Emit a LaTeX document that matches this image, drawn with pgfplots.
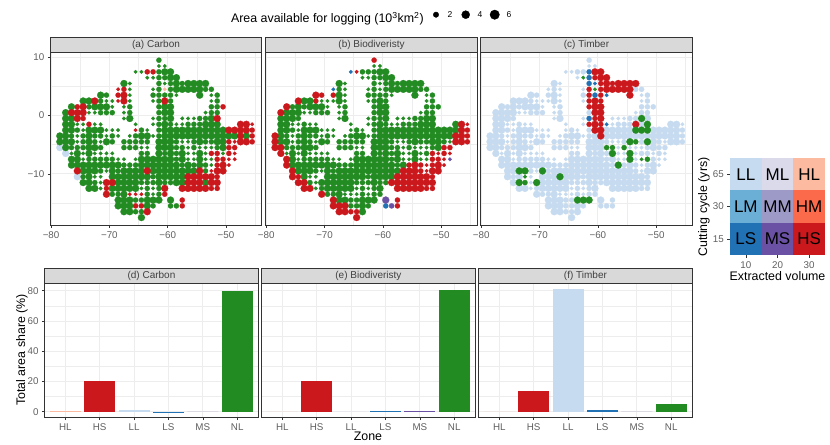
\documentclass[border=0pt]{standalone}
\usepackage{fontspec}
\setmainfont{Liberation Sans}
\usepackage{pgfplots}
\usepackage{pgfplotstable}
\pgfplotsset{compat=1.18}
\definecolor{cNL}{HTML}{228B22}
\definecolor{cLL}{HTML}{C6DBEF}
\definecolor{cHS}{HTML}{CB181D}
\definecolor{cLS}{HTML}{2171B5}
\definecolor{cMS}{HTML}{6A51A3}
\definecolor{cHL}{HTML}{FCBBA1}
\colorlet{z0}{cNL}\colorlet{z1}{cLL}\colorlet{z2}{cHS}\colorlet{z3}{cLS}\colorlet{z4}{cMS}\colorlet{z5}{cHL}
\definecolor{cML}{HTML}{DADAEB}
\definecolor{cHM}{HTML}{FB6A4A}
\definecolor{cLM}{HTML}{6BAED6}
\definecolor{cMM}{HTML}{9E9AC8}
\definecolor{bord}{HTML}{333333}
\definecolor{stripc}{HTML}{D9D9D9}
\definecolor{gridc}{HTML}{EDEDED}
\definecolor{tickc}{HTML}{5F5F5F}
\pgfplotstableread[row sep=\\]{
x y s a b c\\
-61.5 9.5 2 0 2 1\\
-61.5 8.5 1 0 0 1\\ -60.5 8.5 1 0 0 1\\
-65.5 7.5 1 0 3 1\\ -64.5 7.5 1 0 2 1\\ -63.5 7.5 2 2 0 1\\ -62.5 7.5 2 2 0 1\\ -61.5 7.5 2 0 0 3\\ -60.5 7.5 3 0 0 2\\ -59.5 7.5 3 0 0 2\\
-63.5 6.5 1 0 0 1\\ -62.5 6.5 1 0 0 0\\ -61.5 6.5 2 0 0 3\\ -60.5 6.5 2 0 0 2\\ -59.5 6.5 3 0 0 2\\ -58.5 6.5 3 0 0 2\\
-67.5 5.5 3 0 0 1\\ -66.5 5.5 1 0 0 1\\ -61.5 5.5 2 0 0 3\\ -60.5 5.5 1 0 0 3\\ -59.5 5.5 2 0 0 2\\ -58.5 5.5 3 0 0 2\\ -57.5 5.5 2 0 0 2\\ -56.5 5.5 3 0 0 2\\ -55.5 5.5 3 0 0 2\\ -54.5 5.5 3 0 0 2\\ -53.5 5.5 3 0 0 2\\
-68.5 4.5 1 2 3 1\\ -67.5 4.5 2 2 0 1\\ -66.5 4.5 1 0 0 1\\ -62.5 4.5 1 0 0 1\\ -61.5 4.5 2 0 0 2\\ -60.5 4.5 1 5 0 0\\ -59.5 4.5 2 0 0 2\\ -58.5 4.5 3 0 0 2\\ -57.5 4.5 3 0 0 2\\ -56.5 4.5 3 0 0 2\\ -55.5 4.5 3 0 0 2\\ -54.5 4.5 3 0 0 2\\ -53.5 4.5 2 0 0 1\\ -52.5 4.5 2 0 0 1\\
-71.5 3.5 3 0 2 1\\ -70.5 3.5 2 0 2 1\\ -68.5 3.5 2 2 2 1\\ -67.5 3.5 3 2 0 1\\ -66.5 3.5 1 0 0 1\\ -62.5 3.5 2 0 0 1\\ -61.5 3.5 2 0 0 2\\ -60.5 3.5 2 0 0 3\\ -59.5 3.5 2 0 0 2\\ -58.5 3.5 1 0 0 3\\ -54.5 3.5 3 0 0 2\\ -52.5 3.5 1 0 0 1\\ -51.5 3.5 2 0 0 1\\
-74.5 2.5 3 0 2 1\\ -73.5 2.5 3 0 0 1\\ -72.5 2.5 3 2 0 1\\ -71.5 2.5 2 0 2 1\\ -70.5 2.5 1 0 0 1\\ -69.5 2.5 1 0 0 1\\ -68.5 2.5 1 2 0 1\\ -67.5 2.5 3 2 0 1\\ -66.5 2.5 1 0 0 1\\ -62.5 2.5 1 0 0 1\\ -61.5 2.5 2 0 0 2\\ -60.5 2.5 3 2 0 2\\ -59.5 2.5 2 0 0 2\\ -52.5 2.5 1 0 0 1\\ -51.5 2.5 2 0 0 1\\
-76.5 1.5 3 0 2 1\\ -75.5 1.5 2 2 0 1\\ -74.5 1.5 3 2 0 1\\ -73.5 1.5 2 0 0 1\\ -72.5 1.5 3 0 0 1\\ -71.5 1.5 3 0 0 1\\ -70.5 1.5 3 0 0 1\\ -69.5 1.5 1 0 0 1\\ -67.5 1.5 1 0 0 1\\ -66.5 1.5 2 0 0 1\\ -61.5 1.5 2 0 0 2\\ -60.5 1.5 3 0 0 2\\ -59.5 1.5 3 0 0 2\\ -52.5 1.5 2 0 0 1\\ -51.5 1.5 2 0 0 1\\ -50.5 1.5 2 2 0 1\\
-77.5 0.5 3 0 2 1\\ -76.5 0.5 3 2 0 1\\ -75.5 0.5 3 2 0 1\\ -74.5 0.5 3 2 0 1\\ -73.5 0.5 1 0 0 1\\ -72.5 0.5 1 0 0 1\\ -71.5 0.5 2 0 0 1\\ -70.5 0.5 2 0 0 1\\ -69.5 0.5 2 0 0 1\\ -67.5 0.5 1 0 0 1\\ -66.5 0.5 2 0 0 1\\ -61.5 0.5 2 0 0 1\\ -60.5 0.5 3 0 0 2\\ -59.5 0.5 3 0 0 2\\ -53.5 0.5 1 0 0 1\\ -52.5 0.5 2 0 0 1\\ -51.5 0.5 2 0 0 1\\
-77.5 -0.5 3 0 0 1\\ -76.5 -0.5 3 0 0 1\\ -75.5 -0.5 3 2 0 1\\ -74.5 -0.5 2 2 0 1\\ -67.5 -0.5 1 0 0 1\\ -66.5 -0.5 3 0 0 1\\ -62.5 -0.5 1 0 0 1\\ -61.5 -0.5 2 0 0 3\\ -60.5 -0.5 2 0 0 2\\ -59.5 -0.5 3 0 0 2\\ -57.5 -0.5 1 0 0 1\\ -56.5 -0.5 1 0 0 1\\ -55.5 -0.5 1 0 0 1\\ -54.5 -0.5 2 0 0 1\\ -53.5 -0.5 2 0 0 1\\ -52.5 -0.5 3 0 0 0\\ -51.5 -0.5 3 2 0 1\\
-77.5 -1.5 3 0 0 1\\ -76.5 -1.5 3 0 0 1\\ -75.5 -1.5 1 0 0 1\\ -74.5 -1.5 1 0 0 1\\ -73.5 -1.5 2 2 0 1\\ -72.5 -1.5 1 0 0 1\\ -71.5 -1.5 1 0 0 1\\ -65.5 -1.5 1 0 0 1\\ -62.5 -1.5 1 0 0 1\\ -61.5 -1.5 2 0 0 2\\ -60.5 -1.5 3 0 0 2\\ -59.5 -1.5 2 0 0 2\\ -58.5 -1.5 1 0 0 3\\ -57.5 -1.5 1 0 0 1\\ -56.5 -1.5 2 0 0 1\\ -55.5 -1.5 2 0 0 1\\ -54.5 -1.5 2 0 0 1\\ -53.5 -1.5 3 0 0 2\\ -52.5 -1.5 3 0 0 1\\ -51.5 -1.5 3 0 0 0\\ -47.5 -1.5 3 2 0 1\\ -46.5 -1.5 3 2 2 1\\ -45.5 -1.5 1 2 2 1\\
-77.5 -2.5 3 0 0 1\\ -76.5 -2.5 3 0 0 1\\ -75.5 -2.5 2 0 0 1\\ -74.5 -2.5 1 0 0 1\\ -73.5 -2.5 3 0 0 1\\ -72.5 -2.5 3 0 0 1\\ -71.5 -2.5 3 0 0 1\\ -70.5 -2.5 1 0 0 1\\ -69.5 -2.5 1 0 0 1\\ -68.5 -2.5 1 0 0 1\\ -65.5 -2.5 1 2 0 1\\ -64.5 -2.5 2 0 0 1\\ -63.5 -2.5 1 0 0 1\\ -61.5 -2.5 2 0 0 1\\ -60.5 -2.5 3 0 0 2\\ -59.5 -2.5 3 0 0 2\\ -58.5 -2.5 3 0 0 1\\ -57.5 -2.5 3 0 0 1\\ -56.5 -2.5 3 0 0 1\\ -55.5 -2.5 3 0 0 1\\ -54.5 -2.5 3 0 0 1\\ -53.5 -2.5 3 0 0 0\\ -52.5 -2.5 3 0 0 0\\ -51.5 -2.5 3 0 0 0\\ -50.5 -2.5 3 0 0 1\\ -49.5 -2.5 3 2 0 1\\ -48.5 -2.5 3 2 0 1\\ -47.5 -2.5 3 2 0 1\\ -46.5 -2.5 3 2 2 1\\ -45.5 -2.5 2 2 2 1\\
-78.5 -3.5 3 0 2 1\\ -77.5 -3.5 3 0 0 1\\ -76.5 -3.5 2 0 0 1\\ -75.5 -3.5 1 0 0 1\\ -74.5 -3.5 2 0 0 1\\ -73.5 -3.5 3 0 0 1\\ -72.5 -3.5 2 0 0 1\\ -71.5 -3.5 2 0 0 1\\ -70.5 -3.5 1 0 0 1\\ -69.5 -3.5 2 0 0 1\\ -68.5 -3.5 1 0 0 1\\ -66.5 -3.5 1 0 0 1\\ -65.5 -3.5 2 0 0 1\\ -64.5 -3.5 3 0 0 1\\ -63.5 -3.5 3 0 0 1\\ -62.5 -3.5 1 0 0 1\\ -61.5 -3.5 2 0 0 1\\ -60.5 -3.5 3 0 0 1\\ -59.5 -3.5 3 0 0 2\\ -58.5 -3.5 3 0 0 1\\ -57.5 -3.5 3 0 0 1\\ -56.5 -3.5 3 0 0 1\\ -55.5 -3.5 3 0 0 1\\ -54.5 -3.5 3 0 0 1\\ -53.5 -3.5 3 0 0 1\\ -52.5 -3.5 3 0 0 1\\ -51.5 -3.5 3 0 0 1\\ -50.5 -3.5 3 0 0 1\\ -49.5 -3.5 3 0 0 1\\ -48.5 -3.5 3 0 0 1\\ -47.5 -3.5 3 2 2 1\\ -46.5 -3.5 3 0 2 1\\ -45.5 -3.5 2 2 2 1\\
-78.5 -4.5 3 0 2 1\\ -77.5 -4.5 3 0 0 1\\ -76.5 -4.5 3 0 0 1\\ -75.5 -4.5 1 0 0 1\\ -74.5 -4.5 2 0 0 1\\ -73.5 -4.5 3 0 0 1\\ -72.5 -4.5 2 0 0 1\\ -71.5 -4.5 1 0 0 1\\ -70.5 -4.5 3 0 0 1\\ -69.5 -4.5 2 0 0 1\\ -67.5 -4.5 2 0 0 1\\ -66.5 -4.5 2 0 0 1\\ -65.5 -4.5 2 0 0 1\\ -64.5 -4.5 2 0 0 1\\ -63.5 -4.5 2 0 0 1\\ -61.5 -4.5 3 0 0 1\\ -60.5 -4.5 3 0 0 1\\ -59.5 -4.5 3 0 0 1\\ -58.5 -4.5 2 0 0 1\\ -57.5 -4.5 1 0 0 1\\ -56.5 -4.5 1 0 0 1\\ -55.5 -4.5 2 0 0 1\\ -54.5 -4.5 3 0 0 0\\ -53.5 -4.5 2 0 0 0\\ -52.5 -4.5 2 0 0 1\\ -51.5 -4.5 3 0 0 0\\ -50.5 -4.5 3 0 0 1\\ -49.5 -4.5 2 2 0 1\\ -48.5 -4.5 1 2 0 1\\ -47.5 -4.5 3 2 2 1\\ -46.5 -4.5 3 2 2 1\\ -45.5 -4.5 2 2 2 1\\
-78.5 -5.5 3 1 2 1\\ -77.5 -5.5 3 0 2 1\\ -76.5 -5.5 2 0 0 1\\ -75.5 -5.5 2 0 0 1\\ -74.5 -5.5 2 0 0 1\\ -73.5 -5.5 3 0 0 1\\ -72.5 -5.5 3 0 0 1\\ -71.5 -5.5 2 0 0 1\\ -67.5 -5.5 2 0 0 1\\ -66.5 -5.5 2 0 0 1\\ -65.5 -5.5 2 0 0 1\\ -64.5 -5.5 1 0 0 1\\ -63.5 -5.5 1 0 0 1\\ -61.5 -5.5 3 0 0 1\\ -60.5 -5.5 3 0 0 1\\ -59.5 -5.5 3 0 0 1\\ -58.5 -5.5 2 0 0 0\\ -57.5 -5.5 2 0 0 0\\ -56.5 -5.5 1 0 0 1\\ -55.5 -5.5 2 0 0 0\\ -54.5 -5.5 1 0 0 1\\ -53.5 -5.5 1 0 0 1\\ -52.5 -5.5 1 0 0 1\\ -51.5 -5.5 2 0 0 1\\ -50.5 -5.5 3 0 0 1\\ -49.5 -5.5 2 2 2 1\\ -48.5 -5.5 2 2 2 1\\
-77.5 -6.5 3 1 2 1\\ -76.5 -6.5 1 0 0 1\\ -75.5 -6.5 3 0 0 1\\ -74.5 -6.5 1 0 0 1\\ -73.5 -6.5 3 0 0 1\\ -72.5 -6.5 1 0 0 1\\ -71.5 -6.5 1 0 0 1\\ -70.5 -6.5 1 0 0 1\\ -69.5 -6.5 1 0 0 1\\ -64.5 -6.5 2 0 0 1\\ -63.5 -6.5 2 0 0 1\\ -61.5 -6.5 3 0 0 1\\ -60.5 -6.5 2 0 0 1\\ -59.5 -6.5 3 0 0 1\\ -58.5 -6.5 2 0 0 1\\ -57.5 -6.5 3 0 0 0\\ -56.5 -6.5 1 0 0 1\\ -55.5 -6.5 1 0 0 1\\ -54.5 -6.5 3 0 0 0\\ -53.5 -6.5 1 0 0 1\\ -52.5 -6.5 2 2 0 1\\ -51.5 -6.5 2 2 2 1\\ -50.5 -6.5 1 0 2 1\\ -49.5 -6.5 2 2 2 1\\ -48.5 -6.5 1 2 2 1\\
-76.5 -7.5 3 0 2 1\\ -75.5 -7.5 3 0 0 1\\ -74.5 -7.5 1 0 0 1\\ -73.5 -7.5 2 0 0 1\\ -72.5 -7.5 2 0 0 1\\ -71.5 -7.5 2 0 0 1\\ -70.5 -7.5 2 0 0 1\\ -69.5 -7.5 2 0 0 1\\ -68.5 -7.5 1 0 0 1\\ -67.5 -7.5 1 0 0 1\\ -65.5 -7.5 1 0 0 1\\ -64.5 -7.5 3 0 0 1\\ -63.5 -7.5 3 0 0 1\\ -62.5 -7.5 3 0 0 1\\ -61.5 -7.5 3 0 0 1\\ -60.5 -7.5 3 0 0 1\\ -59.5 -7.5 3 0 0 1\\ -58.5 -7.5 2 0 0 1\\ -57.5 -7.5 3 0 0 1\\ -56.5 -7.5 1 0 0 1\\ -55.5 -7.5 1 0 0 1\\ -54.5 -7.5 3 0 0 0\\ -53.5 -7.5 1 0 0 1\\ -52.5 -7.5 1 0 0 0\\ -51.5 -7.5 2 2 2 0\\ -50.5 -7.5 2 2 2 1\\ -49.5 -7.5 1 2 2 1\\ -48.5 -7.5 1 2 4 1\\
-76.5 -8.5 3 0 2 1\\ -75.5 -8.5 3 0 0 1\\ -74.5 -8.5 3 0 0 1\\ -73.5 -8.5 3 0 0 1\\ -72.5 -8.5 3 0 0 1\\ -71.5 -8.5 3 0 0 1\\ -70.5 -8.5 3 0 0 1\\ -69.5 -8.5 3 0 0 1\\ -68.5 -8.5 3 0 0 1\\ -67.5 -8.5 2 0 0 1\\ -66.5 -8.5 2 0 0 1\\ -65.5 -8.5 2 0 0 1\\ -64.5 -8.5 3 0 0 1\\ -63.5 -8.5 3 0 0 1\\ -62.5 -8.5 3 0 0 1\\ -61.5 -8.5 3 0 0 1\\ -60.5 -8.5 3 0 0 1\\ -59.5 -8.5 3 0 0 1\\ -58.5 -8.5 3 0 0 1\\ -57.5 -8.5 2 0 0 1\\ -56.5 -8.5 3 0 0 0\\ -55.5 -8.5 2 0 2 1\\ -54.5 -8.5 3 0 2 1\\ -53.5 -8.5 2 0 2 1\\ -52.5 -8.5 1 0 2 1\\ -51.5 -8.5 2 2 2 1\\ -50.5 -8.5 3 2 2 1\\ -49.5 -8.5 1 2 2 1\\
-75.5 -9.5 3 2 2 1\\ -74.5 -9.5 3 0 0 1\\ -73.5 -9.5 3 0 0 0\\ -72.5 -9.5 3 0 0 0\\ -71.5 -9.5 2 0 0 1\\ -70.5 -9.5 1 0 0 1\\ -69.5 -9.5 3 0 0 0\\ -68.5 -9.5 2 0 0 1\\ -67.5 -9.5 3 0 0 1\\ -66.5 -9.5 3 0 0 1\\ -65.5 -9.5 3 0 0 1\\ -64.5 -9.5 3 0 0 1\\ -63.5 -9.5 3 2 0 1\\ -62.5 -9.5 3 0 0 1\\ -61.5 -9.5 3 0 0 1\\ -60.5 -9.5 3 0 0 1\\ -59.5 -9.5 3 0 0 1\\ -58.5 -9.5 3 0 0 1\\ -57.5 -9.5 3 0 0 1\\ -56.5 -9.5 3 0 2 1\\ -55.5 -9.5 3 0 2 1\\ -54.5 -9.5 3 2 2 1\\ -53.5 -9.5 2 0 2 1\\ -52.5 -9.5 1 2 2 1\\ -51.5 -9.5 3 2 2 1\\ -50.5 -9.5 3 2 2 1\\
-75.5 -10.5 3 1 2 1\\ -74.5 -10.5 2 0 2 1\\ -73.5 -10.5 3 0 0 1\\ -72.5 -10.5 1 0 0 0\\ -71.5 -10.5 1 0 0 1\\ -69.5 -10.5 3 0 0 1\\ -68.5 -10.5 3 0 0 1\\ -67.5 -10.5 3 0 0 1\\ -66.5 -10.5 3 0 0 0\\ -65.5 -10.5 3 0 0 1\\ -64.5 -10.5 3 0 0 1\\ -63.5 -10.5 3 0 0 1\\ -62.5 -10.5 2 0 0 1\\ -61.5 -10.5 3 0 0 1\\ -60.5 -10.5 3 0 0 1\\ -59.5 -10.5 3 0 0 1\\ -58.5 -10.5 3 0 0 1\\ -57.5 -10.5 3 0 2 1\\ -56.5 -10.5 3 2 2 1\\ -55.5 -10.5 3 2 2 1\\ -54.5 -10.5 3 2 2 1\\ -53.5 -10.5 3 2 2 1\\ -52.5 -10.5 3 2 2 1\\ -51.5 -10.5 2 2 2 1\\
-74.5 -11.5 3 0 2 1\\ -73.5 -11.5 3 0 2 0\\ -72.5 -11.5 2 0 0 0\\ -71.5 -11.5 1 0 0 1\\ -70.5 -11.5 3 2 0 0\\ -69.5 -11.5 3 2 0 1\\ -68.5 -11.5 3 0 0 1\\ -67.5 -11.5 3 0 0 1\\ -66.5 -11.5 3 0 0 1\\ -65.5 -11.5 3 0 0 1\\ -64.5 -11.5 2 0 0 1\\ -63.5 -11.5 2 0 0 1\\ -62.5 -11.5 2 0 0 1\\ -61.5 -11.5 3 0 0 1\\ -60.5 -11.5 2 0 0 1\\ -59.5 -11.5 2 0 0 1\\ -58.5 -11.5 3 0 2 1\\ -57.5 -11.5 3 0 2 1\\ -56.5 -11.5 3 2 2 1\\ -55.5 -11.5 3 2 2 1\\ -54.5 -11.5 3 2 2 1\\ -53.5 -11.5 3 0 2 1\\ -52.5 -11.5 3 2 2 1\\ -51.5 -11.5 3 2 2 1\\
-73.5 -12.5 3 0 2 1\\ -72.5 -12.5 3 0 2 1\\ -71.5 -12.5 1 0 0 1\\ -70.5 -12.5 2 2 0 1\\ -69.5 -12.5 3 0 0 1\\ -68.5 -12.5 3 0 0 1\\ -67.5 -12.5 3 0 0 1\\ -66.5 -12.5 3 0 0 1\\ -65.5 -12.5 3 0 0 1\\ -64.5 -12.5 1 0 0 1\\ -63.5 -12.5 2 0 0 1\\ -62.5 -12.5 1 0 0 1\\ -61.5 -12.5 2 0 0 1\\ -60.5 -12.5 3 2 0 1\\ -57.5 -12.5 3 2 2 1\\ -56.5 -12.5 3 2 2 1\\ -55.5 -12.5 3 2 2 1\\ -54.5 -12.5 3 2 2 1\\ -53.5 -12.5 3 2 2 1\\ -52.5 -12.5 2 2 2 1\\ -51.5 -12.5 2 2 2 1\\
-70.5 -13.5 3 2 2 1\\ -69.5 -13.5 2 0 0 1\\ -68.5 -13.5 2 0 0 1\\ -67.5 -13.5 3 0 0 1\\ -66.5 -13.5 1 2 0 1\\ -65.5 -13.5 1 2 0 1\\ -64.5 -13.5 1 2 0 1\\ -63.5 -13.5 2 0 0 1\\ -62.5 -13.5 1 0 0 1\\ -61.5 -13.5 2 0 0 1\\ -60.5 -13.5 2 2 0 1\\
-68.5 -14.5 3 0 2 1\\ -67.5 -14.5 3 0 0 1\\ -66.5 -14.5 3 0 0 1\\ -65.5 -14.5 2 0 0 1\\ -64.5 -14.5 2 0 0 1\\ -63.5 -14.5 3 0 0 0\\ -62.5 -14.5 3 0 0 0\\ -61.5 -14.5 3 0 0 0\\ -59.5 -14.5 3 0 4 1\\ -57.5 -14.5 2 2 2 1\\
-68.5 -15.5 3 0 2 1\\ -67.5 -15.5 3 0 2 1\\ -66.5 -15.5 3 0 2 1\\ -65.5 -15.5 2 2 0 1\\ -64.5 -15.5 2 2 0 1\\ -63.5 -15.5 3 0 0 1\\ -62.5 -15.5 2 0 0 1\\ -59.5 -15.5 2 0 3 1\\ -58.5 -15.5 2 0 4 1\\ -57.5 -15.5 2 2 2 1\\
-67.5 -16.5 3 0 2 1\\ -66.5 -16.5 3 0 2 1\\ -65.5 -16.5 2 0 2 1\\ -64.5 -16.5 2 0 2 1\\ -63.5 -16.5 3 2 0 1\\
-64.5 -17.5 3 0 2 1\\
}\grid
\pgfplotsset{
  base/.style={scale only axis,anchor=south west,
    axis line style={draw=bord,line width=0.9pt},
    tick style={draw=bord,line width=0.6pt},
    major tick length=2.7pt, minor tick length=0pt,
    tick align=outside, tick pos=lower,
    tick label style={font=\fontsize{9.8}{10}\selectfont,text=tickc},
    grid=both,
    major grid style={draw=gridc,line width=0.9pt},
    minor grid style={draw=gridc,line width=0.6pt},
  },
  map/.style={base,width=#1,height=172.5pt,
    xmin=-80.1,ymin=-18.78,ymax=10.82,
    xtick={-80,-70,-60,-50},xticklabels={−80,−70,−60,−50},
    ytick={-10,0,10},yticklabels={−10,0,10},
    minor xtick={-75,-65,-55,-45},minor ytick={-15,-5,5},
  },
  noy/.style={yticklabels={},ytick style={draw=none}},
  bars/.style={base,width=213.5pt,height=134.3pt,
    xmin=-0.6,xmax=5.61,ymin=-3.7,ymax=85.1,
    xtick={0,1,2,3,4,5},xticklabels={HL,HS,LL,LS,MS,NL},
    ytick={0,20,40,60,80},yticklabels={0,20,40,60,80},minor ytick={10,30,50,70},
    ybar,bar width=0.9,bar shift=0pt,
  },
}
% one zone of one panel, in the three dot sizes
\newcommand\zonepts[2]{%
  \addplot[only marks,mark=*,mark size=1.85pt,color=z#2,mark options={line width=0.2pt}]
    table[x=x,y expr={(\thisrow{#1}==#2 && \thisrow{s}==1) ? \thisrow{y} : nan}] {\grid};
  \addplot[only marks,mark=*,mark size=2.6pt,color=z#2,mark options={line width=0.2pt}]
    table[x=x,y expr={(\thisrow{#1}==#2 && \thisrow{s}==2) ? \thisrow{y} : nan}] {\grid};
  \addplot[only marks,mark=*,mark size=3.5pt,color=z#2,mark options={line width=0.2pt}]
    table[x=x,y expr={(\thisrow{#1}==#2 && \thisrow{s}==3) ? \thisrow{y} : nan}] {\grid};
}
\newcommand\strip[5]{%
  \draw[fill=stripc,draw=bord,line width=0.9pt] (#1pt,{(443-#3)*1pt}) rectangle (#2pt,{(443-#4)*1pt});
  \node[font=\fontsize{10}{11}\selectfont,text=black!75] at ({(#1+#2)/2*1pt},{(443-(#3+#4)/2)*1pt}) {#5};}
\begin{document}
\begin{tikzpicture}
\path (0,0) rectangle (830pt,443pt);
% maps
\begin{axis}[map=211pt,xmax=-43.9,at={(50.5pt,218pt)}]
\zonepts{a}{1}\zonepts{a}{0}\zonepts{a}{2}\zonepts{a}{5}
\end{axis}
\begin{axis}[map=211.6pt,xmax=-43.8,noy,at={(265.7pt,218pt)}]
\zonepts{b}{0}\zonepts{b}{2}\zonepts{b}{3}\zonepts{b}{4}
\end{axis}
\begin{axis}[map=211.6pt,xmax=-43.8,noy,at={(480.7pt,218pt)}]
\zonepts{c}{1}\zonepts{c}{2}\zonepts{c}{0}\zonepts{c}{3}
\end{axis}
% bars
\begin{axis}[bars,at={(44.7pt,25.7pt)}]
\addplot[fill=cHL,draw=none] coordinates {(0,0.3)};
\addplot[fill=cHS,draw=none] coordinates {(1,20)};
\addplot[fill=cLL,draw=none] coordinates {(2,0.8)};
\addplot[fill=cLS,draw=none] coordinates {(3,0.1)};
\addplot[fill=cMS,draw=none] coordinates {(4,0)};
\addplot[fill=cNL,draw=none] coordinates {(5,79.5)};
\end{axis}
\begin{axis}[bars,noy,at={(261.7pt,25.7pt)}]
\addplot[fill=cHL,draw=none] coordinates {(0,0)};
\addplot[fill=cHS,draw=none] coordinates {(1,20.2)};
\addplot[fill=cLL,draw=none] coordinates {(2,0)};
\addplot[fill=cLS,draw=none] coordinates {(3,0.5)};
\addplot[fill=cMS,draw=none] coordinates {(4,0.5)};
\addplot[fill=cNL,draw=none] coordinates {(5,80.2)};
\end{axis}
\begin{axis}[bars,noy,at={(478.7pt,25.7pt)}]
\addplot[fill=cHL,draw=none] coordinates {(0,0)};
\addplot[fill=cHS,draw=none] coordinates {(1,13.7)};
\addplot[fill=cLL,draw=none] coordinates {(2,81)};
\addplot[fill=cLS,draw=none] coordinates {(3,1.1)};
\addplot[fill=cMS,draw=none] coordinates {(4,0)};
\addplot[fill=cNL,draw=none] coordinates {(5,5)};
\end{axis}
% strips
\strip{50.5}{261.5}{37.5}{52.7}{(a) Carbon}
\strip{265.7}{477.3}{37.5}{52.7}{(b) Biodiveristy}
\strip{480.7}{692.3}{37.5}{52.7}{(c) Timber}
\strip{44.7}{258.2}{268.5}{283}{(d) Carbon}
\strip{261.7}{475.2}{268.5}{283}{(e) Biodiveristy}
\strip{478.7}{692.2}{268.5}{283}{(f) Timber}
% bivariate key
\begin{axis}[scale only axis,anchor=south west,at={(730pt,188pt)},width=95pt,height=97pt,
  xmin=5,xmax=35,ymin=0.5,ymax=3.5,
  xtick={10,20,30},xticklabels={10,20,30},ytick={1,2,3},yticklabels={15,30,65},
  axis line style={draw=none},tick style={draw=bord,line width=0.6pt},
  major tick length=2.7pt,tick align=outside,tick pos=lower,
  tick label style={font=\fontsize{9.8}{10}\selectfont,text=tickc}]
\addplot[fill=cLL,draw=none] coordinates {(5,2.5)(15,2.5)(15,3.5)(5,3.5)} -- cycle;
\addplot[fill=cML,draw=none] coordinates {(15,2.5)(25,2.5)(25,3.5)(15,3.5)} -- cycle;
\addplot[fill=cHL,draw=none] coordinates {(25,2.5)(35,2.5)(35,3.5)(25,3.5)} -- cycle;
\addplot[fill=cLM,draw=none] coordinates {(5,1.5)(15,1.5)(15,2.5)(5,2.5)} -- cycle;
\addplot[fill=cMM,draw=none] coordinates {(15,1.5)(25,1.5)(25,2.5)(15,2.5)} -- cycle;
\addplot[fill=cHM,draw=none] coordinates {(25,1.5)(35,1.5)(35,2.5)(25,2.5)} -- cycle;
\addplot[fill=cLS,draw=none] coordinates {(5,0.5)(15,0.5)(15,1.5)(5,1.5)} -- cycle;
\addplot[fill=cMS,draw=none] coordinates {(15,0.5)(25,0.5)(25,1.5)(15,1.5)} -- cycle;
\addplot[fill=cHS,draw=none] coordinates {(25,0.5)(35,0.5)(35,1.5)(25,1.5)} -- cycle;
\node[font=\fontsize{17}{18}\selectfont] at (axis cs:10,3) {LL};
\node[font=\fontsize{17}{18}\selectfont] at (axis cs:20,3) {ML};
\node[font=\fontsize{17}{18}\selectfont] at (axis cs:30,3) {HL};
\node[font=\fontsize{17}{18}\selectfont] at (axis cs:10,2) {LM};
\node[font=\fontsize{17}{18}\selectfont] at (axis cs:20,2) {MM};
\node[font=\fontsize{17}{18}\selectfont] at (axis cs:30,2) {HM};
\node[font=\fontsize{17}{18}\selectfont] at (axis cs:10,1) {LS};
\node[font=\fontsize{17}{18}\selectfont] at (axis cs:20,1) {MS};
\node[font=\fontsize{17}{18}\selectfont] at (axis cs:30,1) {HS};
\end{axis}
% size key
\begin{axis}[hide axis,scale only axis,anchor=south west,at={(0pt,0pt)},width=830pt,height=443pt,
  xmin=0,xmax=830,ymin=0,ymax=443]
\addplot[only marks,mark=*,mark size=2.7pt,color=black] coordinates {(436,428.3)};
\addplot[only marks,mark=*,mark size=4pt,color=black] coordinates {(465.7,428.3)};
\addplot[only marks,mark=*,mark size=4.7pt,color=black] coordinates {(494.7,428.3)};
\end{axis}
\node[font=\fontsize{12.4}{13}\selectfont,anchor=west] at (227.5pt,424pt) {Area available for logging (10\textsuperscript{3}km\textsuperscript{2})};
\node[font=\fontsize{8.5}{9}\selectfont] at (450pt,428.5pt) {2};
\node[font=\fontsize{8.5}{9}\selectfont] at (480pt,428.5pt) {4};
\node[font=\fontsize{8.5}{9}\selectfont] at (509pt,428.5pt) {6};
\node[font=\fontsize{12.4}{13}\selectfont] at (368pt,6.3pt) {Zone};
\node[font=\fontsize{12.4}{13}\selectfont,rotate=90] at (22pt,93pt) {Total area share (\%)};
\node[font=\fontsize{12.4}{13}\selectfont] at (777.5pt,166.5pt) {Extracted volume};
\node[font=\fontsize{12.4}{13}\selectfont,rotate=90] at (704pt,236pt) {Cutting cycle (yrs)};
\end{tikzpicture}
\end{document}
